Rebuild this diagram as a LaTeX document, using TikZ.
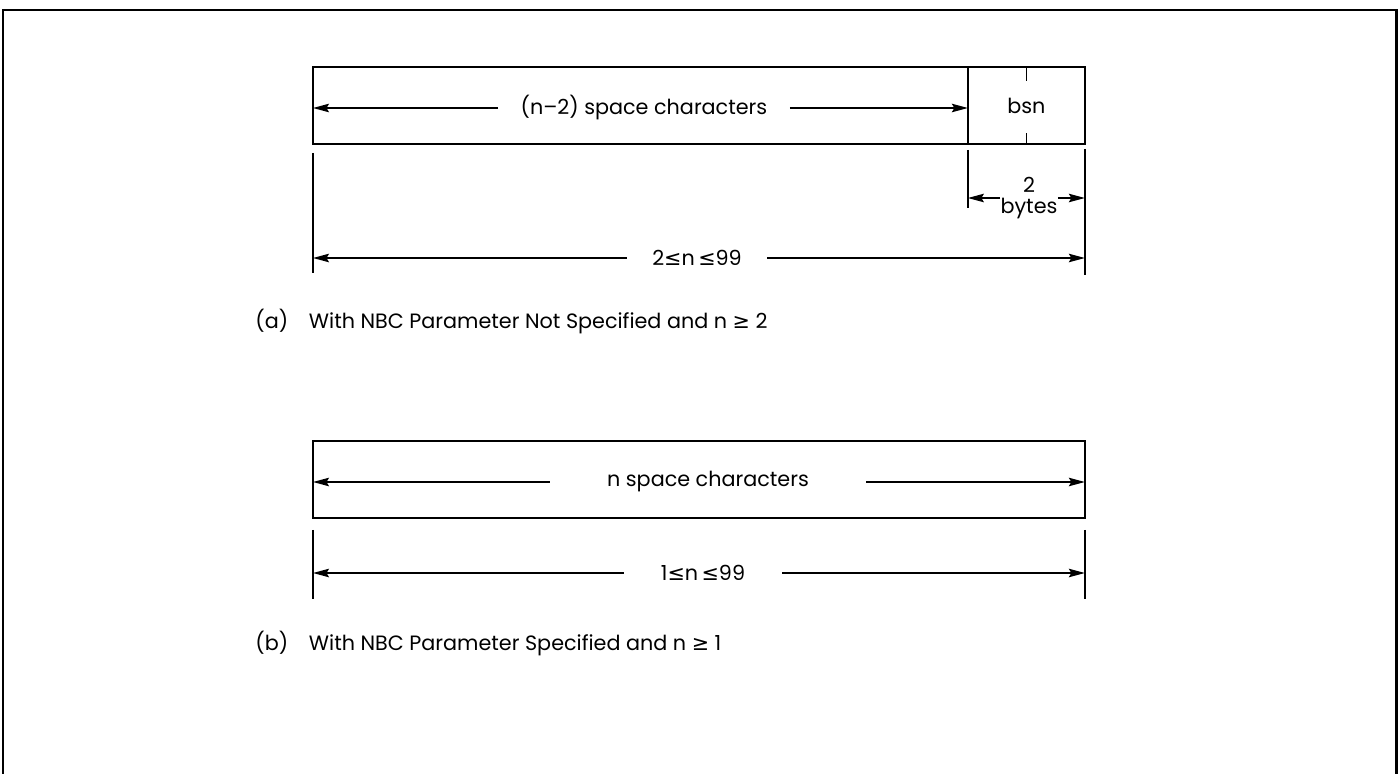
\documentclass[tikz,border=0pt]{standalone}
\usepackage{fontspec}
\setmainfont{Poppins}
\newfontfamily\symfont{DejaVu Sans}
\usetikzlibrary{positioning, arrows.meta, calc}
\newcommand{\lesym}{{\symfont ≤}}
\newcommand{\gesym}{{\symfont ≥}}

\begin{document}
\begin{tikzpicture}[
            x=0.02cm, y=-0.02cm,
            every node/.style={font=\fontsize{11.8}{12}\selectfont},
            field/.style={draw, line width=1.5pt, minimum height=1.54cm, inner sep=0pt, outer sep=0pt},
            gap/.style={inner sep=0pt, minimum height=0.4cm},
            ext/.style={line width=0.85pt},
            dimarrow/.style={-{Stealth[length=3.2mm, width=1.7mm, inset=0.5mm]}, line width=0.85pt}
      ]
      \useasboundingbox (0,0) rectangle (1400,774);
      % Frame, open at the bottom
      \draw[line width=1.7pt] (3,774) -- (3,10) -- (1396,10) -- (1396,774);

      % Part (a)
      \node[field, minimum width=13.1cm, anchor=north west] (fieldA) at (313,67) {};
      \node[field, minimum width=2.34cm, anchor=west] (bsn) at (fieldA.east) {bsn};
      \draw[ext] (bsn.north) -- ++(0,14);
      \draw[ext] (bsn.south) -- ++(0,-11);

      \node[gap, minimum width=5.82cm] (lblA) at (644,108) {(n--2) space characters};
      \draw[dimarrow] (lblA.west) -- (lblA.west -| fieldA.west);
      \draw[dimarrow] (lblA.east) -- (lblA.east -| fieldA.east);

      \draw[ext] ($(fieldA.south west)+(0,9)$) -- ++(0,120);
      \draw[ext] ($(bsn.south east)+(0,5)$) -- ++(0,126);
      \draw[ext] ($(bsn.south west)+(0,6)$) -- ++(0,58);

      \node[inner sep=0pt, align=center, font=\fontsize{11.8}{11.5}\selectfont] (sizeB) at (1029,198) {2\\bytes};
      \draw[dimarrow] (sizeB.west) -- (sizeB.west -| bsn.west);
      \draw[dimarrow] (sizeB.east) -- (sizeB.east -| bsn.east);

      \node[gap, minimum width=2.8cm] (rngA) at (697,258) {2\lesym n\,\lesym 99};
      \draw[dimarrow] (rngA.west) -- (rngA.west -| fieldA.west);
      \draw[dimarrow] (rngA.east) -- (rngA.east -| bsn.east);

      \node[anchor=west, inner sep=0pt] (capA) at (255,322)
            {(a)\quad With NBC Parameter Not Specified and n \gesym\ 2};

      % Part (b)
      \node[field, minimum width=15.44cm, anchor=north west] (fieldB) at (313,441) {};

      \node[gap, minimum width=6.32cm] (lblB) at (708,482) {n space characters};
      \draw[dimarrow] (lblB.west) -- (lblB.west -| fieldB.west);
      \draw[dimarrow] (lblB.east) -- (lblB.east -| fieldB.east);

      \draw[ext] ($(fieldB.south west)+(0,12)$) -- ++(0,69);
      \draw[ext] ($(fieldB.south east)+(0,12)$) -- ++(0,69);

      \node[gap, minimum width=3.16cm] (rngB) at (703,573) {1\lesym n\,\lesym 99};
      \draw[dimarrow] (rngB.west) -- (rngB.west -| fieldB.west);
      \draw[dimarrow] (rngB.east) -- (rngB.east -| fieldB.east);

      \node[anchor=west, inner sep=0pt] (capB) at (255,644)
            {(b)\quad With NBC Parameter Specified and n \gesym\ 1};
\end{tikzpicture}
\end{document}
